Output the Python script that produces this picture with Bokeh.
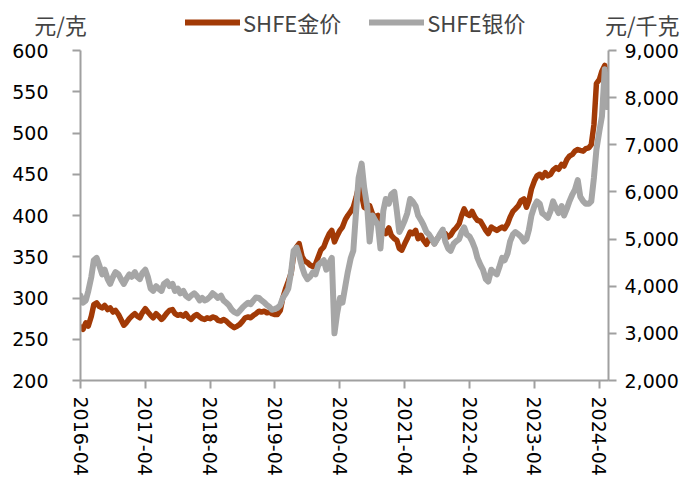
import pandas as pd
from bokeh.plotting import figure
from bokeh.layouts import column
from bokeh.models import (ColumnDataSource, Range1d, LinearAxis, FixedTicker,
                          SingleIntervalTicker, DatetimeTickFormatter,
                          NumeralTickFormatter, Label)
from bokeh.embed import file_html
from bokeh.resources import INLINE

# ---------------- data (semi-monthly) ----------------
dates = pd.date_range("2016-04-01", "2024-05-15", freq="SMS")

gold = [  # SHFE gold, yuan / g
    265, 262, 270, 266, 278, 292, 294, 290, 288, 291, 286, 288,
    283, 285, 280, 274, 267, 270, 275, 278, 281, 278, 276, 282,
    287, 283, 279, 276, 281, 278, 274, 277, 282, 285, 286, 281,
    279, 280, 278, 281, 276, 274, 278, 280, 277, 275, 274, 276,
    275, 277, 276, 273, 272, 274, 272, 269, 266, 264, 266, 268,
    272, 276, 277, 276, 279, 281, 284, 283, 284, 282, 283, 281,
    280, 280, 285, 300, 312, 320, 330, 352, 362, 366, 350, 345,
    343, 340, 338, 341, 350, 358, 362, 370, 378, 382, 368, 375,
    382, 386, 395, 400, 405, 410, 422, 435, 425, 410, 408, 412,
    402, 398, 400, 385, 382, 378, 385, 376, 372, 370, 360, 358,
    366, 372, 380, 378, 382, 372, 376, 370, 365, 372, 370, 366,
    372, 376, 380, 378, 374, 376, 382, 385, 390, 400, 408, 402,
    400, 405, 398, 394, 393, 388, 382, 378, 386, 384, 382, 384,
    386, 384, 390, 398, 405, 408, 412, 418, 420, 410, 418, 432,
    442, 448, 450, 446, 452, 448, 450, 455, 458, 456, 462, 460,
    468, 472, 474, 478, 480, 479, 478, 481, 482, 486, 510, 560,
    565, 575, 582, 560,
]

silver = [  # SHFE silver, yuan / kg
    3800, 3650, 3700, 3900, 4200, 4550, 4600, 4450, 4250, 4350, 4150, 4050,
    4200, 4300, 4250, 4150, 4050, 4150, 4250, 4200, 4300, 4200, 4150, 4280,
    4350, 4200, 3950, 3900, 4000, 3950, 3900, 4050, 4100, 4000, 4050, 3900,
    3950, 3850, 3900, 3800, 3750, 3800, 3850, 3800, 3700, 3750, 3700, 3720,
    3780, 3850, 3800, 3750, 3800, 3700, 3650, 3600, 3500, 3450, 3420, 3480,
    3550, 3600, 3650, 3620, 3700, 3760, 3750, 3700, 3650, 3600, 3560, 3500,
    3520, 3540, 3600, 3750, 3850, 3950, 4300, 4750, 4820, 4650, 4400, 4250,
    4150, 4200, 4300, 4250, 4450, 4500, 4550, 4350, 4500, 4600, 3000, 3400,
    3750, 3650, 4000, 4300, 4600, 4750, 5600, 6300, 6600, 6100, 5700, 4950,
    5500, 5400, 5300, 4800, 5600, 5850, 5750, 5950, 6000, 5600, 5150, 5250,
    5400, 5550, 5850, 5800, 5700, 5500, 5400, 5300, 5150, 5100, 5000, 4900,
    5000, 5100, 5200, 4950, 4800, 4750, 4900, 4950, 5000, 5150, 5250, 5100,
    5050, 4950, 4800, 4600, 4450, 4350, 4150, 4100, 4350, 4300, 4250, 4400,
    4600, 4550, 4700, 4950, 5100, 5150, 5100, 5050, 4950, 5000, 5200, 5500,
    5700, 5800, 5750, 5550, 5500, 5450, 5600, 5800, 5650, 5550, 5700, 5500,
    5650, 5800, 5950, 6050, 6250, 5900, 5800, 5750, 5750, 5800, 6300, 6900,
    7300, 7600, 8600, 7800,
]

tick_dates = ["2016-04-01", "2017-04-01", "2018-04-01", "2019-04-01",
              "2020-04-01", "2021-04-01", "2022-04-01", "2023-04-01",
              "2024-04-01"]
gold_name = "SHFE金价"
silver_name = "SHFE银价"
left_unit = "元/克"
right_unit = "元/千克"

# ---------------- styles ----------------
GOLD_C = "#A23A06"
SILVER_C = "#A6A6A6"
AXIS_C = "#A0A0A0"
NUM_FONT = "DejaVu Sans"
CJK_FONT = "Noto Sans CJK SC"
W = 681
HEAD_H = 38

src = ColumnDataSource(dict(date=dates, gold=gold, silver=silver))

# ---------------- header (legend + units) ----------------
h = figure(width=W, height=HEAD_H, x_range=Range1d(0, 1), y_range=Range1d(0, 1),
           output_backend="svg", toolbar_location=None,
           x_axis_location=None, y_axis_location=None, min_border=0)
h.outline_line_color = None
h.xgrid.visible = False
h.ygrid.visible = False
# legend proxies: same series, but far outside the header's view
h.line(x="date", y="gold", source=src, color=GOLD_C, line_width=6,
       line_cap="round", legend_label=gold_name)
h.line(x="date", y="silver", source=src, color=SILVER_C, line_width=6,
       line_cap="round", legend_label=silver_name)
hl = h.legend[0]
hl.location = (185, 0)
hl.orientation = "horizontal"
hl.background_fill_alpha = 0
hl.border_line_color = None
hl.label_text_font = CJK_FONT
hl.label_text_font_size = "22px"
hl.glyph_width = 55
hl.glyph_height = 20
hl.spacing = 28
hl.label_standoff = 3
hl.padding = 0
hl.margin = 0
h.add_layout(Label(x=60, y=15, x_units="screen", y_units="screen",
                   text=left_unit, text_align="center", text_baseline="middle",
                   text_font=CJK_FONT, text_font_size="22px"))
h.add_layout(Label(x=679, y=15, x_units="screen", y_units="screen",
                   text=right_unit, text_align="right", text_baseline="middle",
                   text_font=CJK_FONT, text_font_size="22px"))

# ---------------- main chart ----------------
p = figure(width=W, height=446, x_axis_type="datetime",
           x_range=Range1d(pd.Timestamp("2016-04-01"), pd.Timestamp("2024-05-22")),
           y_range=Range1d(200, 600),
           output_backend="svg", toolbar_location=None,
           min_border_left=80, min_border_top=12, min_border_right=71,
           min_border_bottom=104)
p.extra_y_ranges = {"ag": Range1d(2000, 9000)}
p.outline_line_color = None
p.xgrid.visible = False
p.ygrid.visible = False

for fig in (h, p):
    try:
        fig.frame_align = False
    except Exception:
        pass

p.line(x="date", y="gold", source=src, color=GOLD_C, line_width=5.5,
       line_join="round", line_cap="round")
p.line(x="date", y="silver", source=src, color=SILVER_C, line_width=6,
       line_join="round", line_cap="round", y_range_name="ag")

right = LinearAxis(y_range_name="ag")
p.add_layout(right, "right")


def style(ax):
    ax.axis_line_color = AXIS_C
    ax.axis_line_width = 2
    ax.major_tick_line_color = AXIS_C
    ax.major_tick_line_width = 2
    ax.major_tick_in = 0
    ax.major_tick_out = 8
    ax.minor_tick_line_color = None
    ax.major_label_text_font = NUM_FONT
    ax.major_label_text_font_size = "19px"
    ax.major_label_text_color = "black"


yl = p.yaxis[0]
style(yl)
yl.ticker = SingleIntervalTicker(interval=50)
yl.major_label_standoff = 24

style(right)
right.ticker = SingleIntervalTicker(interval=1000)
right.formatter = NumeralTickFormatter(format="0,0")
right.major_label_standoff = 8

xa = p.xaxis[0]
style(xa)
xa.ticker = FixedTicker(ticks=[pd.Timestamp(d).value / 1e6 for d in tick_dates])
fmt = "%Y-%m"
xa.formatter = DatetimeTickFormatter(years=fmt, months=fmt, days=fmt,
                                     hours=fmt, minutes=fmt, seconds=fmt,
                                     milliseconds=fmt, microseconds=fmt)
xa.major_label_orientation = "vertical"
xa.major_label_standoff = 8

layout = column(h, p, spacing=0)
open("out.html", "w").write(file_html(layout, INLINE))
